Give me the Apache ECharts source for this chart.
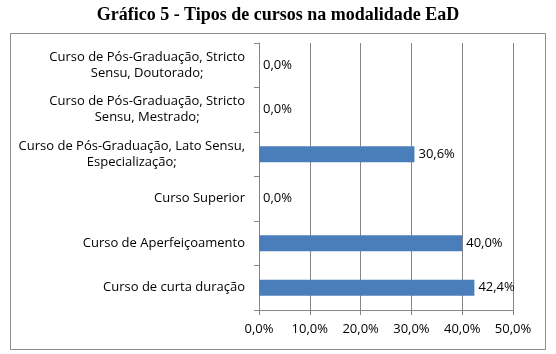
<!DOCTYPE html>
<html><head><meta charset="utf-8">
<script src="https://cdn.jsdelivr.net/npm/echarts@6/dist/echarts.min.js"></script>
<style>html,body{margin:0;padding:0;background:#fff}#c{width:556px;height:354px}</style>
</head><body><div id="c"></div>
<script>
const titleText = 'Gráfico 5 - Tipos de cursos na modalidade EaD';
const categories = [
  'Curso de curta duração',
  'Curso de Aperfeiçoamento',
  'Curso Superior',
  'Curso de Pós-Graduação, Lato Sensu,\nEspecialização;',
  'Curso de Pós-Graduação, Stricto\nSensu, Mestrado;',
  'Curso de Pós-Graduação, Stricto\nSensu, Doutorado;'
];
const values = [42.4, 40.0, 0.0, 30.6, 0.0, 0.0];
const axisMin = 0, axisMax = 50, axisStep = 10;

const fmt = v => v.toFixed(1).replace('.', ',') + '%';
const fontFam = '"Open Sans", sans-serif';
const fontSize = 13;
const font = fontSize + 'px ' + fontFam;
const ctx = document.createElement('canvas').getContext('2d');
ctx.font = font;

const chart = echarts.init(document.getElementById('c'), null, {renderer: 'canvas'});
chart.setOption({
  animation: false,
  title: {
    text: titleText, left: 'center', top: 1,
    textStyle: {fontFamily: '"Liberation Serif", "Times New Roman", serif', fontWeight: 'bold', fontSize: 18, color: '#000'}
  },
  graphic: [{
    id: 'frame', type: 'rect', shape: {x: 10.5, y: 33.5, width: 535, height: 316},
    style: {fill: 'none', stroke: '#8c8c8c', lineWidth: 1}, z: -1
  }],
  grid: {left: 259, right: 43, top: 43, bottom: 44},
  xAxis: {
    type: 'value', min: axisMin, max: axisMax, interval: axisStep,
    axisLine: {show: true, lineStyle: {color: '#868686'}},
    axisTick: {show: true, length: 5, lineStyle: {color: '#868686'}},
    splitLine: {show: true, lineStyle: {color: '#868686', width: 1}},
    axisLabel: {formatter: fmt, fontFamily: fontFam, fontSize: fontSize, color: '#000', margin: 13}
  },
  yAxis: {
    type: 'category', data: categories,
    axisLine: {show: true, lineStyle: {color: '#868686'}},
    axisTick: {show: true, length: 5, lineStyle: {color: '#868686'}},
    axisLabel: {show: false}
  },
  series: [{
    type: 'bar', data: values, barWidth: 16,
    itemStyle: {color: '#4a7ebb'},
    label: {show: true, position: 'right', distance: 4, formatter: p => fmt(p.value),
      fontFamily: fontFam, fontSize: fontSize, color: '#000'}
  }]
});

// category labels: each line centered within its block, block right-aligned next to the axis
const labelMargin = 14, lineH = 16;
const axisX = chart.convertToPixel({xAxisIndex: 0}, axisMin);
const labelGraphics = [];
categories.forEach((c, i) => {
  const lines = c.split('\n');
  const w = Math.max(...lines.map(l => ctx.measureText(l).width));
  const cy = chart.convertToPixel({yAxisIndex: 0}, c);
  lines.forEach((l, j) => {
    labelGraphics.push({
      type: 'text', id: 'cat' + i + '_' + j,
      style: {text: l, x: axisX - labelMargin - w / 2, y: cy + (j - (lines.length - 1) / 2) * lineH,
        align: 'center', verticalAlign: 'middle', font: font, fill: '#000'}
    });
  });
});
chart.setOption({graphic: labelGraphics});
</script></body></html>
